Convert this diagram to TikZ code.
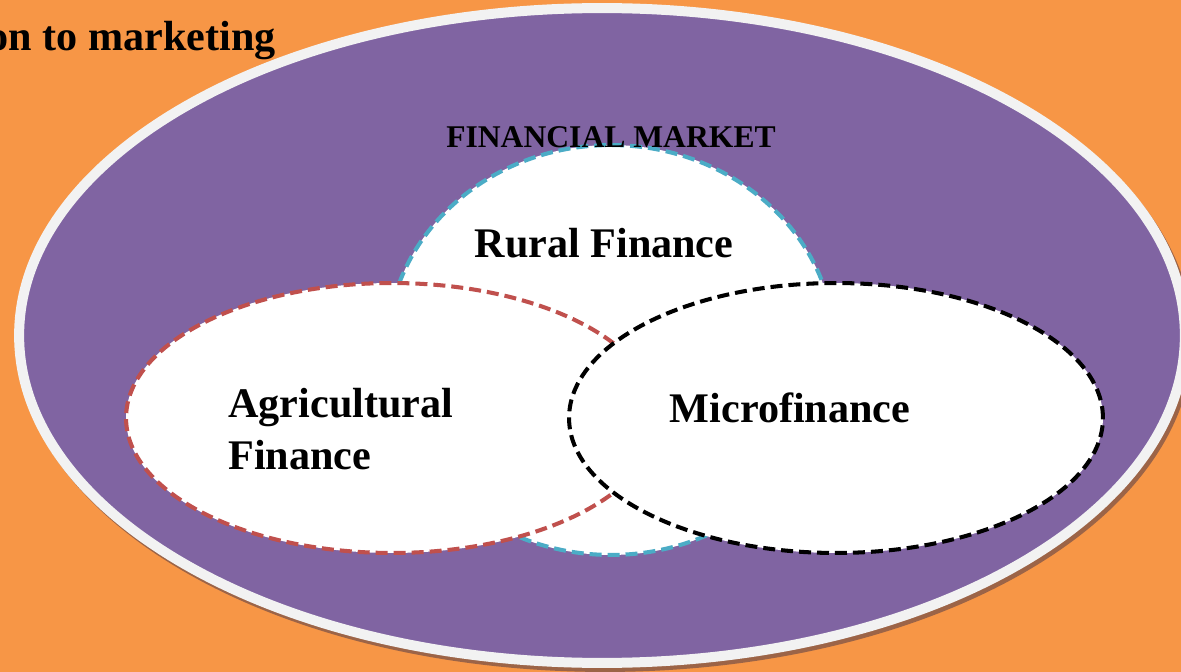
\documentclass[tikz,border=0pt]{standalone}
\usepackage{fontspec}
\setmainfont{Liberation Serif}
\usetikzlibrary{positioning, shapes.geometric}

\definecolor{bgorange}{HTML}{F79646}
\definecolor{mktpurple}{HTML}{8064A2}
\definecolor{rimgrey}{HTML}{F2F2F2}
\definecolor{rimshadow}{HTML}{9C6447}
\definecolor{ruralblue}{HTML}{4BACC6}
\definecolor{agrired}{HTML}{C0504D}

\begin{document}
\begin{tikzpicture}
[
    x=0.02cm, y=-0.02cm, font=\bfseries,
    % Coordinates are slide pixels: 1px = 0.02cm, y runs downwards
    % Set ellipses are named S-R (rural), S-A (agricultural), S-F (micro)
]

%=================================== Start ===================================
\tikzstyle{set} = [ellipse, fill=white, line width=2.3pt, inner sep=0pt, outer sep=0pt,
    dash pattern=on 0.24cm off 0.12cm]
\tikzstyle{lbl} = [font=\fontsize{24}{27}\selectfont\bfseries, inner sep=0pt]
\tikzstyle{rim} = [ellipse, inner sep=0pt, outer sep=0pt]

\useasboundingbox[fill=bgorange] (0,0) rectangle (1181,672);

% cut off heading line
\node[anchor=base east, inner sep=0pt, font=\fontsize{24}{28}\selectfont\bfseries]
    (head) at (276,51) {on to marketing};

% the market itself, with its grey rim and a little shadow
\node[rim, fill=rimshadow, minimum width=23.52cm, minimum height=13.3cm]
    (M-shadow) at (605,339.5) {};
\node[rim, draw=rimgrey, fill=mktpurple, line width=0.2cm,
      minimum width=23.32cm, minimum height=13.1cm] (M) at (602,335.5) {};

% the three overlapping sets, drawn back to front
\foreach \name / \cx / \cy / \w / \h / \col in {R/611/350/8.96/8.2/ruralblue,
                                              A/392/418/10.64/5.4/agrired,
                                              F/836/418/10.68/5.4/black}
    \node[set, draw=\col, minimum width=\w cm, minimum height=\h cm]
          (S-\name) at (\cx,\cy) {};

% labels
\node[anchor=base, inner sep=0pt, font=\fontsize{18}{20}\selectfont\bfseries]
    (L-M) at ([yshift=-0.04cm]S-R.north) {FINANCIAL MARKET};
\node[lbl, anchor=base] (L-R) at ([xshift=-0.14cm, yshift=-2.24cm]S-R.north) {Rural Finance};
\node[lbl, anchor=base west, align=left] (L-A) at ([xshift=-3.28cm, yshift=-1.04cm]S-A.center)
    {Agricultural\\[0.11cm]Finance};
\node[lbl, anchor=base] (L-F) at ([xshift=-0.92cm, yshift=-0.1cm]S-F.center) {Microfinance};
%==================================== END ====================================

\end{tikzpicture}
\end{document}
